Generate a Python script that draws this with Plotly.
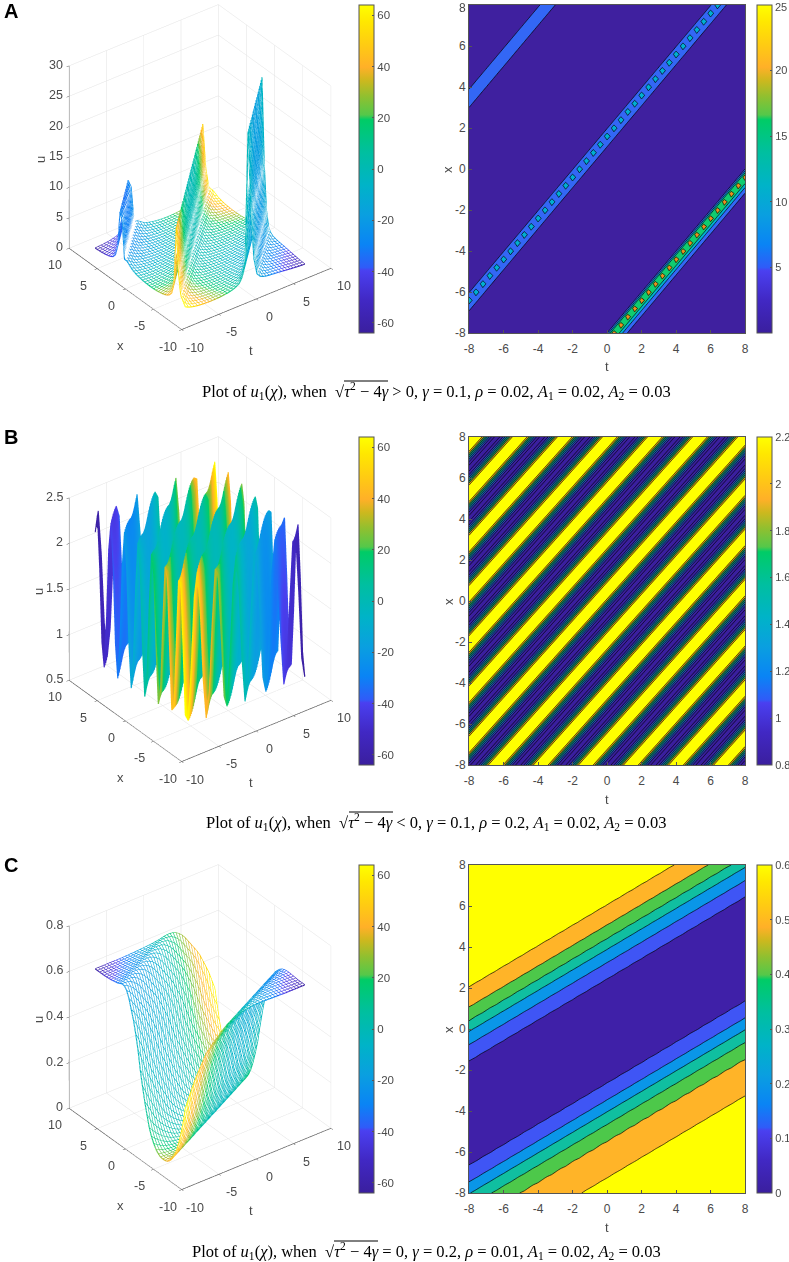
import numpy as np
import plotly.graph_objects as go

W, H = 789, 1262

# grid shared by all surfaces / contour maps
t_values = [-8.0, -7.6, -7.2, -6.8, -6.4, -6.0, -5.6, -5.2, -4.8, -4.4, -4.0, -3.6, -3.2, -2.8, -2.4, -2.0, -1.6, -1.2, -0.8, -0.4, 0.0,
            0.4, 0.8, 1.2, 1.6, 2.0, 2.4, 2.8, 3.2, 3.6, 4.0, 4.4, 4.8, 5.2, 5.6, 6.0, 6.4, 6.8, 7.2, 7.6, 8.0]
x_values = list(t_values)

# Panel A: u read along x-t = -16 ... 16 in steps of 0.4
u_a = [.35, .38, .42, .46, .51, .56, .62, .68, .74, .80, .85, .90, .95, 1.02, 1.15, 1.4, 2.0, 4.6, 12.0, 26.0,
       4.9, 2.4, 1.6, 1.25, 1.05, .92, .82, .75, .70, .66, .64, .63, .63, .65, .68, .72, .78, .86, .98, 1.15,
       1.4, 2.1, 2.7, 6.0, 13.5, 4.2, 2.1, 1.5, 1.2, 1.0, .88, .78, .70, .65, .62, .60, .60, .62, .65, .70,
       .76, .84, .95, 1.1, 1.35, 1.7, 2.0, 2.0, 8.0, 9.3, 3.4, 1.7, 1.1, .85, .70, .60, .52, .46, .42, .38, .35]

# Panel B: one period of u, read along x-0.9375t in steps of 0.025, starting on a crest
u_b = [2.38, 2.378, 2.373, 2.365, 2.353, 2.338, 2.319, 2.298, 2.273, 2.246, 2.215, 2.182, 2.146, 2.108, 2.068, 2.025, 1.98,
       1.934, 1.886, 1.836, 1.786, 1.735, 1.683, 1.63, 1.577, 1.523, 1.47, 1.417, 1.365, 1.314, 1.264, 1.214, 1.166,
       1.12, 1.075, 1.032, .992, .954, .918, .884, .854, .827, .802, .781, .762, .747, .735, .727, .722,
       .72,
       .722, .727, .735, .747, .762, .781, .802, .827, .854, .884, .918, .954, .992, 1.032, 1.075, 1.12,
       1.166, 1.214, 1.264, 1.314, 1.365, 1.417, 1.47, 1.523, 1.577, 1.63, 1.683, 1.735, 1.786, 1.836, 1.886, 1.934,
       1.98, 2.025, 2.068, 2.108, 2.146, 2.182, 2.215, 2.246, 2.273, 2.298, 2.319, 2.338, 2.353, 2.365, 2.373, 2.378]

# Panel C: u read along x-0.5t = -12 ... 12 in steps of 0.2
u_c = [.62, .62, .62, .62, .62, .62, .62, .62, .621, .621, .622, .622, .623, .623, .624, .624, .624, .623, .622, .62,
       .618, .615, .61, .604, .598, .593, .585, .575, .563, .55, .538, .525, .51, .495, .47, .445, .42, .393, .36, .327,
       .293, .256, .22, .19, .165, .14, .117, .095, .078, .063, .05, .039, .029, .021, .014, .009, .005, .002, .001, 0,
       0,
       .001, .002, .005, .009, .014, .021, .029, .039, .05, .063, .078, .095, .117, .143, .168, .194, .224, .255, .285,
       .32, .36, .4, .432, .462, .492, .516, .536, .556, .576, .596, .612, .624, .633, .638, .64, .64, .638, .635, .632,
       .63, .628, .627, .626, .625, .624, .623, .622, .622, .621, .621, .62, .62, .62, .62, .62, .62, .62, .62, .62, .62]

# contour levels and band colours
levels_a = (5, 20.01, 5)
levels_b = (0.78, 1.981, 0.2)
levels_c = (0.1, 0.601, 0.1)
bands_a = ['#3f209f', '#3367f5', '#00b0d0', '#10cc70', '#e8901e']
bands_b = ['#3a1f9e', '#3a1f9e', '#2a3fb0', '#1570a8', '#0f8a80', '#2a9a55', '#e0a010', '#ffff00']
bands_c = ['#3f20a8', '#3f55f5', '#0a96e8', '#10bfa0', '#4dc84a', '#ffb428', '#ffff00']

# colour map
parula = [[0, '#3a1f9e'], [.1, '#4128c4'], [.19, '#4a40f0'], [.20, '#2f5cf8'], [.27, '#0a84f5'], [.36, '#0a9fe0'],
          [.45, '#00b3c8'], [.55, '#00bfa0'], [.65, '#00cc66'], [.665, '#55c84a'], [.72, '#8fc030'], [.77, '#cdb81e'],
          [.81, '#ffb028'], [.88, '#ffcc12'], [.95, '#ffe800'], [1, '#ffff00']]

ticks_mesh = [-60, -40, -20, 0, 20, 40, 60]
ticktext_mesh = ['-60', '-40', '-20', '0', '20', '40', '60']
ticks_a = [5, 10, 15, 20, 25]
ticktext_a = ['5', '10', '15', '20', '25']
ticks_b = [0.8, 1, 1.2, 1.4, 1.6, 1.8, 2, 2.2]
ticks_c = [0, 0.1, 0.2, 0.3, 0.4, 0.5, 0.6]
ticktext_b = ['0.8', '1', '1.2', '1.4', '1.6', '1.8', '2', '2.2']
ticktext_c = ['0', '0.1', '0.2', '0.3', '0.4', '0.5', '0.6']
axis_ticks_2d = [-8, -6, -4, -2, 0, 2, 4, 6, 8]
axis_text_2d = ['-8', '-6', '-4', '-2', '0', '2', '4', '6', '8']
axis_ticks_3d = [-10, -5, 0, 5, 10]
axis_text_3d = ['-10', '-5', '0', '5', '10']
zticks_a = [0, 5, 10, 15, 20, 25, 30]
zticks_b = [0.5, 1, 1.5, 2, 2.5]
zticks_c = [0, 0.2, 0.4, 0.6, 0.8]
zticktext_a = ['0', '5', '10', '15', '20', '25', '30']
zticktext_b = ['0.5', '1', '1.5', '2', '2.5']
zticktext_c = ['0', '0.2', '0.4', '0.6', '0.8']

NARROW = 'Liberation Sans Narrow, Liberation Sans, Arial, sans-serif'
SERIF = 'Liberation Serif, Times New Roman, serif'
TXT = '#4a4a4a'
LINE = '#555555'

n = len(t_values)
T = np.array(t_values)
X = np.array(x_values)
TT, XX = np.meshgrid(T, X)
I, J = np.meshgrid(np.arange(n), np.arange(n))

Z_a = np.array(u_a)[40 + J - I]
Z_b = np.array(u_b)[(16 * J - 15 * I - 530) % 98]
Z_c = np.array(u_c)[40 - I + 2 * J]
MESH_COLOR = TT * XX

# finer lattice for the contour map of panel B (phase still lands on table entries)
If, Jf = np.meshgrid(np.arange(151), np.arange(161))
T_f = -8 + If[0, :] * 16 / 150
X_f = -8 + Jf[:, 0] * 0.1
Z_b_fine = np.array(u_b)[(4 * Jf - 4 * If - 530) % 98]

fig = go.Figure()


def mesh_lines(Z):
    xs, ys, zs, cs = [], [], [], []
    for i in range(n):
        xs += list(TT[:, i]) + [None]; ys += list(XX[:, i]) + [None]
        zs += list(Z[:, i]) + [None]; cs += list(MESH_COLOR[:, i]) + [0]
    for j in range(n):
        xs += list(TT[j, :]) + [None]; ys += list(XX[j, :]) + [None]
        zs += list(Z[j, :]) + [None]; cs += list(MESH_COLOR[j, :]) + [0]
    return xs, ys, zs, cs


def colorbar_trace(px_x, px_top, cmin, cmax, vals, text, axis='x', yaxis='y', size=11.5):
    cb = dict(x=px_x / W, xanchor='left', xpad=0, ypad=0,
              y=1 - (px_top + 164) / H, yanchor='middle',
              lenmode='pixels', len=328, thicknessmode='pixels', thickness=14.5,
              outlinecolor=LINE, outlinewidth=1, ticks='inside', ticklen=2, tickcolor=LINE,
              tickvals=vals, ticktext=text, tickfont=dict(family=NARROW, size=size, color=TXT))
    return go.Scatter(x=[None, None], y=[None, None], mode='markers', showlegend=False, hoverinfo='skip',
                      xaxis=axis, yaxis=yaxis,
                      marker=dict(color=[cmin, cmax], cmin=cmin, cmax=cmax, colorscale=parula,
                                  showscale=True, colorbar=cb))


panels = [
    dict(top=5, Z=Z_a, zr=[0, 30], zt=zticks_a, ztt=zticktext_a, lev=levels_a, bands=bands_a, cb=(0, 25), cbt=ticks_a, cbtt=ticktext_a, solid=False, cx=T, cy=X, cz=Z_a, ux=41),
    dict(top=437, Z=Z_b, zr=[0.5, 2.5], zt=zticks_b, ztt=zticktext_b, lev=levels_b, bands=bands_b, cb=(0.8, 2.2), cbt=ticks_b, cbtt=ticktext_b, solid=True, cx=T_f, cy=X_f, cz=Z_b_fine, ux=38),
    dict(top=865, Z=Z_c, zr=[0, 0.8], zt=zticks_c, ztt=zticktext_c, lev=levels_c, bands=bands_c, cb=(0, 0.6), cbt=ticks_c, cbtt=ticktext_c, solid=False, cx=T, cy=X, cz=Z_c, ux=38),
]

layout = {}
annotations, shapes = [], []


def label(text, px, py, angle=0, size=13):
    annotations.append(dict(text=text, x=px / W, y=1 - py / H, xref='paper', yref='paper', xanchor='center',
                            yanchor='middle', showarrow=False, textangle=angle,
                            font=dict(family=NARROW, size=size, color=TXT)))


def scene_ticks(p):
    """Tick labels of a 3-D box, anchored at the tick's data position."""
    font = dict(family=NARROW, size=12.5, color=TXT)
    z0 = p['zr'][0]
    out = []
    for v, s in zip(axis_ticks_3d, axis_text_3d):
        out.append(dict(x=v, y=-10, z=z0, text=s, showarrow=False, xshift=13, yshift=-18, font=font))
        out.append(dict(x=-10, y=v, z=z0, text=s, showarrow=False, xshift=-14, yshift=-17, font=font))
    for v, s in zip(p['zt'], p['ztt']):
        out.append(dict(x=-10, y=10, z=v, text=s, showarrow=False, xanchor='right', xshift=-4, yshift=1, font=font))
    return out


for k, p in enumerate(panels):
    top = p['top']
    sfx = '' if k == 0 else str(k + 1)
    scene = 'scene' + sfx
    if p['solid']:
        fig.add_trace(go.Surface(x=T, y=X, z=p['Z'], surfacecolor=MESH_COLOR, cmin=-64, cmax=64, scene=scene, showscale=False,
                                 hoverinfo='skip', colorscale=parula, lighting=dict(ambient=1, diffuse=0, specular=0)))
    else:
        # white hidden-surface layer, coloured mesh lines over it
        fig.add_trace(go.Surface(x=T, y=X, z=p['Z'], scene=scene, showscale=False, hoverinfo='skip',
                                 colorscale=[[0, 'white'], [1, 'white']], lighting=dict(ambient=1, diffuse=0, specular=0)))
    xs, ys, zs, cs = mesh_lines(p['Z'])
    fig.add_trace(go.Scatter3d(x=xs, y=ys, z=zs, scene=scene, mode='lines', showlegend=False, hoverinfo='skip',
                               line=dict(color=cs, cmin=-64, cmax=64, colorscale=parula, width=2.2)))
    # contour map
    N = len(p['bands'])
    scale = [[i / (N - 1), c] for i, c in enumerate(p['bands'])]
    fig.add_trace(go.Contour(x=p['cx'], y=p['cy'], z=p['cz'], xaxis='x' + sfx, yaxis='y' + sfx, showscale=False, hoverinfo='skip',
                             autocontour=False, colorscale=scale,
                             contours=dict(start=p['lev'][0], end=p['lev'][1], size=p['lev'][2], coloring='fill', showlines=True),
                             line=dict(color='black', width=0.7, smoothing=0)))
    fig.add_trace(colorbar_trace(359, top, -64, 64, ticks_mesh, ticktext_mesh, 'x' + sfx, 'y' + sfx))
    fig.add_trace(colorbar_trace(757, top, p['cb'][0], p['cb'][1], p['cbt'], p['cbtt'], 'x' + sfx, 'y' + sfx, 11))

    axis3 = dict(range=[-10, 10], tickvals=axis_ticks_3d, showticklabels=False, showbackground=False,
                 gridcolor='#e2e2e2', gridwidth=1, title=dict(text=''),
                 zeroline=False, showspikes=False, showline=True, linecolor=LINE, linewidth=1.5,
                 ticks='outside', ticklen=3, tickcolor=LINE)
    zaxis = dict(axis3, range=p['zr'], tickvals=p['zt'])
    bot = top + 164 + 18 + 187
    layout[scene] = dict(
        domain=dict(x=[20 / W, 380 / W], y=[1 - bot / H, 1 - (top + 164 + 18 - 187) / H]),
        xaxis=axis3, yaxis=axis3, zaxis=zaxis, annotations=scene_ticks(p),
        aspectmode='manual', aspectratio=dict(x=1, y=1, z=1.163),
        camera=dict(projection=dict(type='orthographic'), up=dict(x=0, y=0, z=1),
                    center=dict(x=0, y=0, z=-0.127),
                    eye=dict(x=-1.027, y=-1.362, z=0.981)),
    )
    ax = dict(range=[-8, 8], tickvals=axis_ticks_2d, ticktext=axis_text_2d, ticks='inside', ticklen=3, tickcolor=LINE,
              showline=True, linecolor=LINE, linewidth=1, mirror=True, showgrid=False, zeroline=False,
              tickfont=dict(family=NARROW, size=12, color=TXT), automargin=False)
    layout['xaxis' + sfx] = dict(ax, domain=[469 / W, 745 / W], anchor='y' + sfx, ticklabelstandoff=5)
    layout['yaxis' + sfx] = dict(ax, domain=[1 - (top + 328) / H, 1 - top / H], anchor='x' + sfx)
    # axis titles
    label('u', p['ux'], top + 155, -90)
    label('x', 120, top + 340)
    label('t', 251, top + 345)
    label('x', 448, top + 165, -90)
    label('t', 607, top + 362)

# labels at the very top of panel A that the axis would drop at the page edge
label('8', 462, 8, 0, 12)
label('25', 781, 7, 0, 11)

# panel letters and captions
captions = [
    (11, 'A', 200, 391, '&gt; 0, <i>γ</i> = 0.1, <i>ρ</i> = 0.02, ', (344, 388, 381)),
    (437, 'B', 204, 822, '&lt; 0, <i>γ</i> = 0.1, <i>ρ</i> = 0.2, ', (349, 393, 812)),
    (865, 'C', 190, 1251, '= 0, <i>γ</i> = 0.2, <i>ρ</i> = 0.01, ', (334, 378, 1241)),
]
for ly, letter, cx, cy, tail, (ox0, ox1, oy) in captions:
    annotations.append(dict(text='<b>%s</b>' % letter, x=2 / W, y=1 - ly / H, xref='paper', yref='paper',
                            xanchor='left', yanchor='middle', showarrow=False,
                            font=dict(family='Liberation Sans, Arial', size=20, color='black')))
    annotations.append(dict(text='Plot of <i>u</i><sub>1</sub>(<i>χ</i>), when  √<i>τ</i><sup>2</sup> − 4<i>γ</i> ' + tail
                            + '<i>A</i><sub>1</sub> = 0.02, <i>A</i><sub>2</sub> = 0.03',
                            x=cx / W, y=1 - cy / H, xref='paper', yref='paper', xanchor='left', yanchor='middle',
                            showarrow=False, font=dict(family=SERIF, size=16.5, color='black')))
    shapes.append(dict(type='line', xref='paper', yref='paper', x0=ox0 / W, x1=ox1 / W, y0=1 - oy / H, y1=1 - oy / H,
                       line=dict(color='black', width=1)))

fig.update_layout(width=W, height=H, autosize=False, paper_bgcolor='white', plot_bgcolor='white', showlegend=False,
                  margin=dict(l=0, r=0, t=0, b=0, pad=0, autoexpand=False), annotations=annotations, shapes=shapes, **layout)
fig.write_html('out.html', config=dict(displayModeBar=False), post_script="document.body.style.margin='0';")
